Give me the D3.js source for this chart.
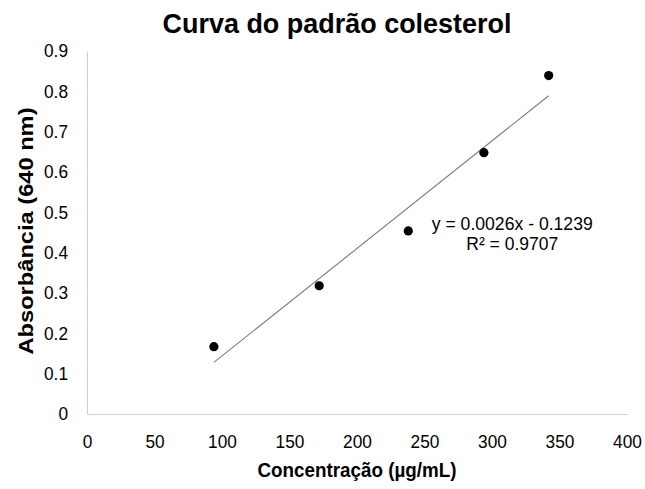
<!DOCTYPE html>
<html>
<head>
<meta charset="utf-8">
<script src="https://cdn.jsdelivr.net/npm/d3@7"></script>
<style>
  html, body { margin: 0; padding: 0; background: #fff; }
  #chart { width: 645px; height: 489px; }
  text { font-family: "Liberation Sans", Arial, sans-serif; }
</style>
</head>
<body>
<div id="chart"></div>
<script>
// Curva do padrão colesterol
const concentracao = [94, 172, 238, 294, 342];
const absorbancia = [0.167, 0.318, 0.454, 0.648, 0.839];
const xTicks = [0, 50, 100, 150, 200, 250, 300, 350, 400];
const yTicks = [0, 0.1, 0.2, 0.3, 0.4, 0.5, 0.6, 0.7, 0.8, 0.9];
const equacao = ["y = 0.0026x - 0.1239", "R\u00b2 = 0.9707"];

(() => {
    const W = 645, H = 489;
    const m = { top: 51, right: 18, bottom: 75, left: 87 };
    const w = W - m.left - m.right;
    const h = H - m.top - m.bottom;

    const svg = d3.select("#chart").append("svg").attr("width", W).attr("height", H);
    const g = svg.append("g").attr("transform", `translate(${m.left},${m.top})`);

    const x = d3.scaleLinear().domain([0, 400]).range([0, w]);
    const y = d3.scaleLinear().domain([0, 0.9]).range([h, 0]);

    const xAxis = g.append("g").attr("transform", `translate(0,${h})`)
        .call(d3.axisBottom(x).tickValues(xTicks).tickSize(0).tickPadding(21).tickFormat(d3.format("d")));
    const yAxis = g.append("g")
        .call(d3.axisLeft(y).tickValues(yTicks).tickSize(0).tickPadding(19).tickFormat(d => d === 0 ? "0" : d3.format(".1f")(d)));

    [xAxis, yAxis].forEach(a => {
        a.select(".domain").attr("stroke", "#d0d0d0").attr("stroke-width", 1.2);
        a.selectAll("text").attr("font-size", 18.5).attr("fill", "#000")
            .attr("font-family", "'Liberation Sans', Arial, sans-serif")
            .attr("transform", "scale(0.95,1)");
    });
    // keep the tick labels centred after the narrow scaling
    xAxis.selectAll(".tick text").attr("transform", null)
        .attr("textLength", d => String(d).length * 9.6).attr("lengthAdjust", "spacingAndGlyphs");
    yAxis.selectAll(".tick text").attr("transform", null)
        .attr("textLength", d => (d === 0 ? 1 : 2.5) * 9.6).attr("lengthAdjust", "spacingAndGlyphs");

    // linear trendline (least squares) over the data range
    const pts = concentracao.map((c, i) => ({ c, a: absorbancia[i] }));
    const mx = d3.mean(pts, d => d.c), my = d3.mean(pts, d => d.a);
    const slope = d3.sum(pts, d => (d.c - mx) * (d.a - my)) / d3.sum(pts, d => (d.c - mx) ** 2);
    const icpt = my - slope * mx;
    const ext = d3.extent(concentracao);

    g.append("line")
        .attr("x1", x(ext[0])).attr("y1", y(slope * ext[0] + icpt))
        .attr("x2", x(ext[1])).attr("y2", y(slope * ext[1] + icpt))
        .attr("stroke", "#7a7a7a").attr("stroke-width", 1.1);

    g.selectAll("circle")
        .data(pts)
        .join("circle")
        .attr("cx", d => x(d.c))
        .attr("cy", d => y(d.a))
        .attr("r", 4.6)
        .attr("fill", "#000");

    g.append("text")
        .attr("x", x(315)).attr("y", y(0.455))
        .attr("text-anchor", "middle").attr("font-size", 18.5).attr("fill", "#000")
        .selectAll("tspan")
        .data(equacao)
        .join("tspan")
        .attr("x", x(315))
        .attr("dy", (d, i) => i ? 19.5 : 0)
        .attr("textLength", (d, i) => i ? 92 : 161).attr("lengthAdjust", "spacingAndGlyphs")
        .text(d => d);

    svg.append("text")
        .attr("x", 337).attr("y", 33)
        .attr("text-anchor", "middle").attr("font-size", 28.5).attr("font-weight", "bold")
        .attr("textLength", 349).attr("lengthAdjust", "spacingAndGlyphs")
        .text("Curva do padrão colesterol");

    svg.append("text")
        .attr("x", m.left + w / 2).attr("y", 477)
        .attr("text-anchor", "middle").attr("font-size", 19.5).attr("font-weight", "bold")
        .attr("textLength", 199).attr("lengthAdjust", "spacingAndGlyphs")
        .text("Concentração (µg/mL)");

    svg.append("text")
        .attr("transform", `translate(33,${231}) rotate(-90)`)
        .attr("text-anchor", "middle").attr("font-size", 20).attr("font-weight", "bold")
        .attr("textLength", 247).attr("lengthAdjust", "spacingAndGlyphs")
        .text("Absorbância (640 nm)");
})();
</script>
</body>
</html>
